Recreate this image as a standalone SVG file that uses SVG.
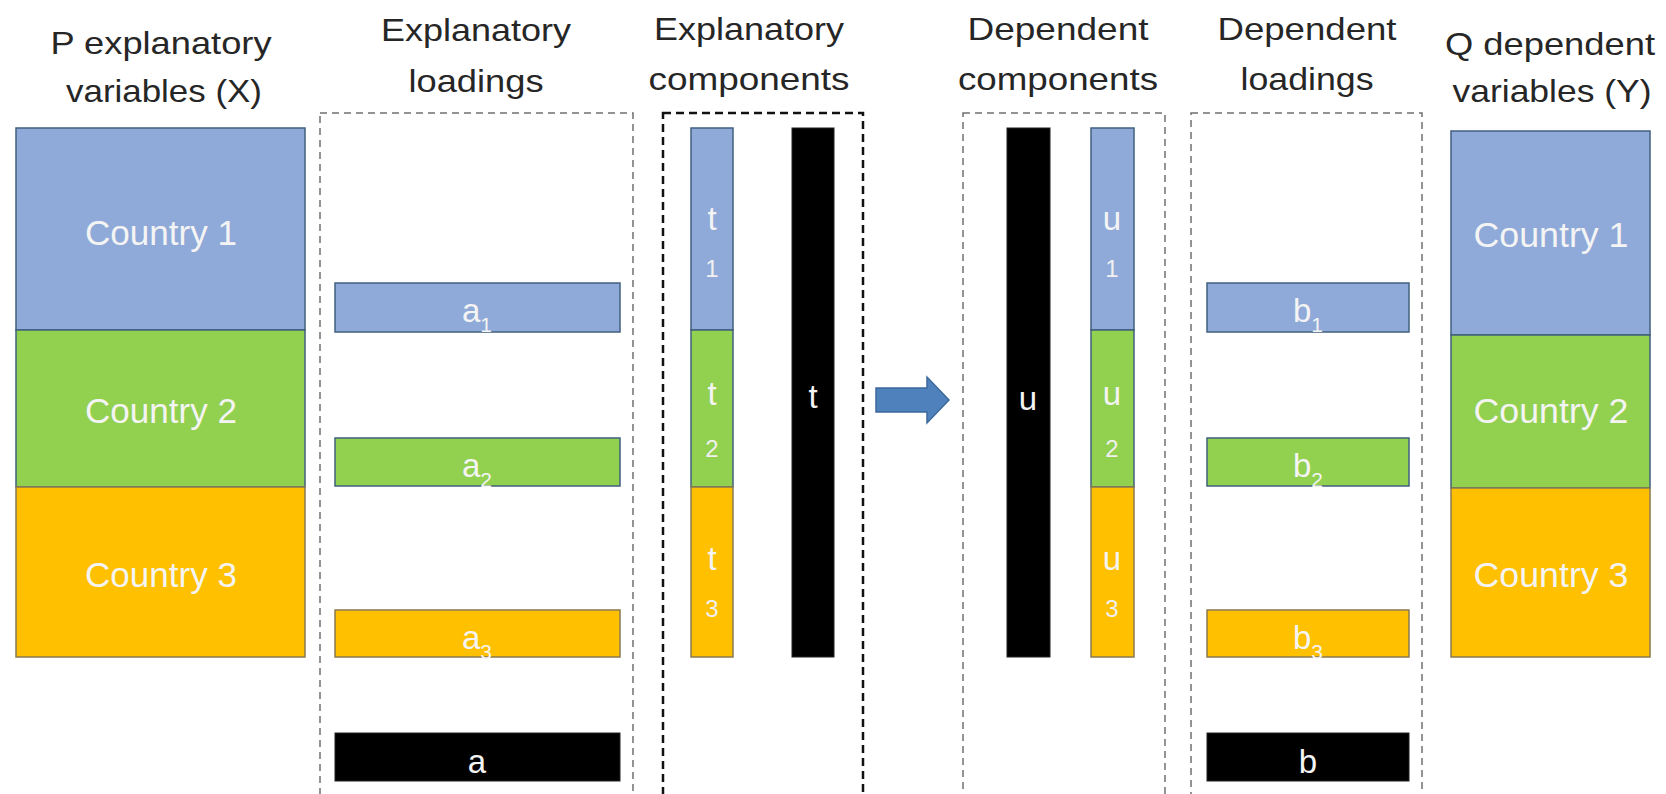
<svg xmlns="http://www.w3.org/2000/svg" width="1666" height="794" viewBox="0 0 1666 794">
<style>
.hd{font-family:"Liberation Sans",Arial,sans-serif;font-size:32px;fill:#262626;text-anchor:middle}
.lb{font-family:"Liberation Sans",Arial,sans-serif;font-size:35px;fill:#f4f4f4;text-anchor:middle}
.sm{font-family:"Liberation Sans",Arial,sans-serif;font-size:33px;fill:#f4f4f4;text-anchor:middle}
.dg{font-family:"Liberation Sans",Arial,sans-serif;font-size:24px;fill:#f0f0f0;text-anchor:middle}
.sub{font-size:21px}
.blue{fill:#8faad8;stroke:#40607f;stroke-width:1.5}
.green{fill:#92d050;stroke:#40607f;stroke-width:1.5}
.orange{fill:#ffc000;stroke:#8a7a50;stroke-width:1.5}
.black{fill:#000;stroke:#222;stroke-width:1}
.dash{fill:none;stroke:#707070;stroke-width:1.5;stroke-dasharray:7 5}
.dashb{fill:none;stroke:#111;stroke-width:2.5;stroke-dasharray:8 5}
</style>
<rect width="1666" height="794" fill="#fff"/>

<g id="header-x">
<text class="hd" x="161" y="54" textLength="221" lengthAdjust="spacingAndGlyphs">P explanatory</text>
<text class="hd" x="164" y="102" textLength="196" lengthAdjust="spacingAndGlyphs">variables (X)</text>
</g>
<g id="header-xload">
<text class="hd" x="476" y="41" textLength="190" lengthAdjust="spacingAndGlyphs">Explanatory</text>
<text class="hd" x="476" y="92" textLength="135" lengthAdjust="spacingAndGlyphs">loadings</text>
</g>
<g id="header-xcomp">
<text class="hd" x="749" y="40" textLength="190" lengthAdjust="spacingAndGlyphs">Explanatory</text>
<text class="hd" x="749" y="90" textLength="201" lengthAdjust="spacingAndGlyphs">components</text>
</g>
<g id="header-ycomp">
<text class="hd" x="1058" y="40" textLength="181" lengthAdjust="spacingAndGlyphs">Dependent</text>
<text class="hd" x="1058" y="90" textLength="200" lengthAdjust="spacingAndGlyphs">components</text>
</g>
<g id="header-yload">
<text class="hd" x="1307" y="40" textLength="179" lengthAdjust="spacingAndGlyphs">Dependent</text>
<text class="hd" x="1307" y="90" textLength="133" lengthAdjust="spacingAndGlyphs">loadings</text>
</g>
<g id="header-y">
<text class="hd" x="1550" y="55" textLength="210" lengthAdjust="spacingAndGlyphs">Q dependent</text>
<text class="hd" x="1552" y="102" textLength="199" lengthAdjust="spacingAndGlyphs">variables (Y)</text>
</g>

<g id="frame-xload"><rect class="dash" x="320" y="113" width="313" height="700"/></g>
<g id="frame-xcomp"><rect class="dashb" x="663" y="113" width="200" height="700"/></g>
<g id="frame-ycomp"><rect class="dash" x="963" y="113" width="202" height="700"/></g>
<g id="frame-yload"><rect class="dash" x="1191" y="113" width="231" height="700"/></g>

<g id="x-matrix">
<rect class="blue" x="16" y="128" width="289" height="202"/>
<rect class="green" x="16" y="330" width="289" height="157"/>
<rect class="orange" x="16" y="487" width="289" height="170"/>
<text class="lb" x="161" y="245" textLength="152" lengthAdjust="spacingAndGlyphs">Country 1</text>
<text class="lb" x="161" y="423" textLength="152" lengthAdjust="spacingAndGlyphs">Country 2</text>
<text class="lb" x="161" y="587" textLength="152" lengthAdjust="spacingAndGlyphs">Country 3</text>
</g>

<g id="a1"><rect class="blue" x="335" y="283" width="285" height="49"/><text class="sm" x="477" y="322">a<tspan class="sub" dy="10">1</tspan></text></g>
<g id="a2"><rect class="green" x="335" y="438" width="285" height="48"/><text class="sm" x="477" y="477">a<tspan class="sub" dy="10">2</tspan></text></g>
<g id="a3"><rect class="orange" x="335" y="610" width="285" height="47"/><text class="sm" x="477" y="649">a<tspan class="sub" dy="10">3</tspan></text></g>
<g id="a"><rect class="black" x="335" y="733" width="285" height="48"/><text class="sm" x="477" y="773">a</text></g>

<g id="t-blocks">
<rect class="blue" x="691" y="128" width="42" height="202"/>
<rect class="green" x="691" y="330" width="42" height="157"/>
<rect class="orange" x="691" y="487" width="42" height="170"/>
<text class="sm" x="712" y="230">t</text><text class="dg" x="712" y="277">1</text>
<text class="sm" x="712" y="405">t</text><text class="dg" x="712" y="457">2</text>
<text class="sm" x="712" y="570">t</text><text class="dg" x="712" y="617">3</text>
</g>
<g id="t"><rect class="black" x="792" y="128" width="42" height="529"/><text class="sm" x="813" y="408">t</text></g>

<g id="connectors">
<path d="M876,388 H927 V377 L949,400 L927,423 V412 H876 Z" fill="#4f81bd" stroke="#3d6a9e" stroke-width="1.5"/>
</g>

<g id="u"><rect class="black" x="1007" y="128" width="43" height="529"/><text class="sm" x="1028" y="410">u</text></g>
<g id="u-blocks">
<rect class="blue" x="1091" y="128" width="43" height="202"/>
<rect class="green" x="1091" y="330" width="43" height="157"/>
<rect class="orange" x="1091" y="487" width="43" height="170"/>
<text class="sm" x="1112" y="230">u</text><text class="dg" x="1112" y="277">1</text>
<text class="sm" x="1112" y="405">u</text><text class="dg" x="1112" y="457">2</text>
<text class="sm" x="1112" y="570">u</text><text class="dg" x="1112" y="617">3</text>
</g>

<g id="b1"><rect class="blue" x="1207" y="283" width="202" height="49"/><text class="sm" x="1308" y="322">b<tspan class="sub" dy="10">1</tspan></text></g>
<g id="b2"><rect class="green" x="1207" y="438" width="202" height="48"/><text class="sm" x="1308" y="477">b<tspan class="sub" dy="10">2</tspan></text></g>
<g id="b3"><rect class="orange" x="1207" y="610" width="202" height="47"/><text class="sm" x="1308" y="649">b<tspan class="sub" dy="10">3</tspan></text></g>
<g id="b"><rect class="black" x="1207" y="733" width="202" height="48"/><text class="sm" x="1308" y="773">b</text></g>

<g id="y-matrix">
<rect class="blue" x="1451" y="131" width="199" height="204"/>
<rect class="green" x="1451" y="335" width="199" height="153"/>
<rect class="orange" x="1451" y="488" width="199" height="169"/>
<text class="lb" x="1551" y="247" textLength="155" lengthAdjust="spacingAndGlyphs">Country 1</text>
<text class="lb" x="1551" y="423" textLength="155" lengthAdjust="spacingAndGlyphs">Country 2</text>
<text class="lb" x="1551" y="587" textLength="155" lengthAdjust="spacingAndGlyphs">Country 3</text>
</g>
</svg>
